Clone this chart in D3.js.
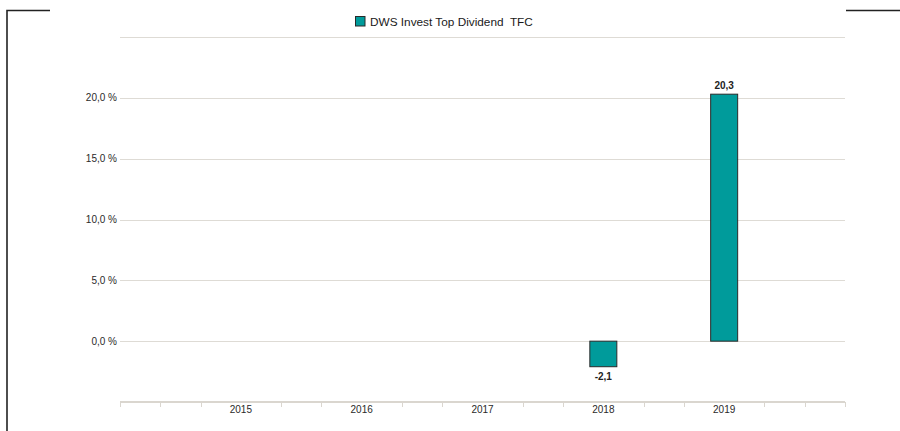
<!DOCTYPE html>
<html>
<head>
<meta charset="utf-8">
<script src="https://cdn.jsdelivr.net/npm/d3@7"></script>
<style>
  body { margin: 0; background: #fff; }
  svg { display: block; font-family: "Liberation Sans", Arial, sans-serif; }
</style>
</head>
<body>
<div id="chart"></div>
<script>
// chart data
const years = ['2015', '2016', '2017', '2018', '2019'];
const values = [null, null, null, -2.1, 20.3];
const seriesName = 'DWS Invest Top Dividend  TFC';
const yTicks = [0, 5, 10, 15, 20];

const width = 900, height = 431;
const plotLeft = 120, plotRight = 845, plotTop = 37, plotBottom = 402;
const teal = '#009b9b';

const fmt = v => d3.format('.1f')(v).replace('.', ',').replace('\u2212', '-');

const svg = d3.select('#chart').append('svg')
    .attr('width', width)
    .attr('height', height);

// frame pieces
svg.append('path')
    .attr('d', 'M7,431 V10.5 H50 M846,10.5 H900')
    .attr('fill', 'none')
    .attr('stroke', '#222')
    .attr('stroke-width', 1.6);

const y = d3.scaleLinear().domain([-5, 25]).range([plotBottom, plotTop]);
const x = d3.scaleLinear().domain([0, years.length + 1]).range([plotLeft, plotRight]);

// gridlines
svg.append('g')
    .selectAll('line')
    .data(yTicks.concat([25]))
    .enter()
    .append('line')
    .attr('x1', plotLeft)
    .attr('x2', plotRight)
    .attr('y1', d => Math.round(y(d)) + 0.5)
    .attr('y2', d => Math.round(y(d)) + 0.5)
    .attr('stroke', '#dedbd5')
    .attr('stroke-width', 1);

// y labels
svg.append('g')
    .selectAll('text')
    .data(yTicks)
    .enter()
    .append('text')
    .attr('x', plotLeft - 3)
    .attr('y', d => y(d))
    .attr('dy', '0.35em')
    .attr('text-anchor', 'end')
    .attr('font-size', 10)
    .attr('fill', '#2a2a2a')
    .text(d => fmt(d) + ' %');

// x axis: line, minor ticks between categories
const minor = d3.range(0, (years.length + 1) * 3 + 1)
    .filter(k => k % 3 !== 0 || k === 0 || k === (years.length + 1) * 3)
    .map(k => k / 3);

const axis = svg.append('g');
axis.append('line')
    .attr('x1', plotLeft)
    .attr('x2', plotRight)
    .attr('y1', plotBottom)
    .attr('y2', plotBottom)
    .attr('stroke', '#dad6cf')
    .attr('stroke-width', 2);
axis.selectAll('line.tick')
    .data(minor)
    .enter()
    .append('line')
    .attr('class', 'tick')
    .attr('x1', d => Math.round(x(d)) + 0.5)
    .attr('x2', d => Math.round(x(d)) + 0.5)
    .attr('y1', plotBottom)
    .attr('y2', plotBottom + 5)
    .attr('stroke', '#dad6cf')
    .attr('stroke-width', 1);
axis.selectAll('text')
    .data(years)
    .enter()
    .append('text')
    .attr('x', (d, i) => x(i + 1))
    .attr('y', plotBottom + 10.5)
    .attr('text-anchor', 'middle')
    .attr('font-size', 10)
    .attr('fill', '#2a2a2a')
    .text(d => d);

// bars
const barW = 27;
const barData = years.map((yr, i) => ({ year: yr, i: i, v: values[i] }))
    .filter(d => d.v !== null);

svg.append('g')
    .selectAll('rect')
    .data(barData)
    .enter()
    .append('rect')
    .attr('x', d => x(d.i + 1) - barW / 2)
    .attr('y', d => y(Math.max(0, d.v)))
    .attr('width', barW)
    .attr('height', d => Math.abs(y(d.v) - y(0)))
    .attr('fill', teal)
    .attr('stroke', '#2a2a2a')
    .attr('stroke-width', 1);

// value labels
svg.append('g')
    .selectAll('text')
    .data(barData)
    .enter()
    .append('text')
    .attr('x', d => x(d.i + 1))
    .attr('y', d => d.v >= 0 ? y(d.v) - 5 : y(d.v) + 6)
    .attr('dy', d => d.v >= 0 ? '0' : '0.71em')
    .attr('text-anchor', 'middle')
    .attr('font-size', 10)
    .attr('font-weight', 'bold')
    .attr('fill', '#222')
    .text(d => fmt(d.v));

// legend
const legend = svg.append('g').attr('transform', 'translate(355,16)');
legend.append('rect')
    .attr('x', 0.5)
    .attr('y', 0.5)
    .attr('width', 9.5)
    .attr('height', 9.5)
    .attr('fill', teal)
    .attr('stroke', '#2a2a2a')
    .attr('stroke-width', 1);
legend.append('text')
    .attr('x', 15)
    .attr('y', 5.5)
    .attr('dy', '0.35em')
    .attr('font-size', 11.8)
    .attr('fill', '#1a1a1a')
    .style('white-space', 'pre')
    .text(seriesName);
</script>
</body>
</html>
